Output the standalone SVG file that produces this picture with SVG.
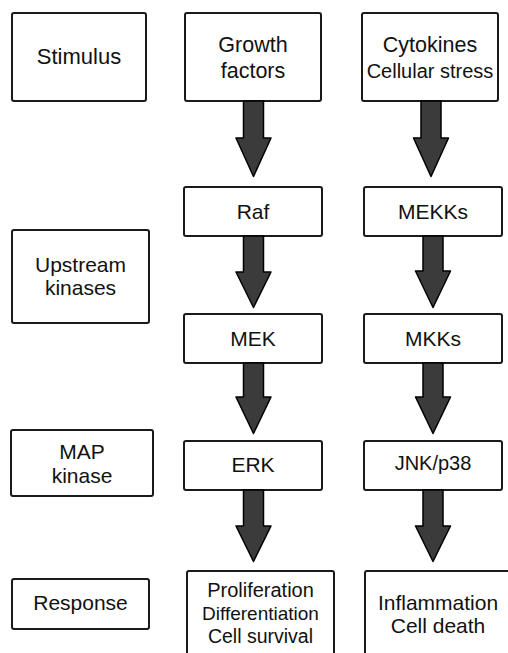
<svg xmlns="http://www.w3.org/2000/svg" width="508" height="653" viewBox="0 0 508 653">
<style>
.box{fill:#fff;stroke:#1a1a1a;stroke-width:2}
.t{font-family:"Liberation Sans",Arial,sans-serif;font-size:21px;fill:#111;text-anchor:middle}
.arr{fill:#3b3b3b;stroke:#000;stroke-width:1.5;stroke-linejoin:round}
</style>
<rect width="508" height="653" fill="#fff"/>
<g id="stimulus"><rect class="box" x="12" y="13" width="134" height="88" rx="2"/><text class="t" x="79" y="64" style="font-size:22px">Stimulus</text></g>
<g id="growth-factors"><rect class="box" x="185" y="13" width="136" height="88" rx="2"/><text class="t" x="253" y="52" style="font-size:21.5px">Growth</text><text class="t" x="253" y="78" style="font-size:21.5px">factors</text></g>
<g id="cytokines"><rect class="box" x="362" y="13" width="136" height="88" rx="2"/><text class="t" x="430" y="52" style="font-size:21.5px">Cytokines</text><text class="t" x="430" y="78" style="font-size:20px">Cellular stress</text></g>
<g id="upstream"><rect class="box" x="12" y="230" width="137" height="93" rx="2"/><text class="t" x="80.5" y="272">Upstream</text><text class="t" x="80.5" y="295">kinases</text></g>
<g id="raf"><rect class="box" x="184" y="187" width="138" height="49" rx="2"/><text class="t" x="253" y="218.5">Raf</text></g>
<g id="mekks"><rect class="box" x="364" y="187" width="138" height="49" rx="2"/><text class="t" x="433" y="218.5">MEKKs</text></g>
<g id="mek"><rect class="box" x="184" y="314" width="138" height="49" rx="2"/><text class="t" x="253" y="346">MEK</text></g>
<g id="mkks"><rect class="box" x="364" y="314" width="138" height="49" rx="2"/><text class="t" x="433" y="346">MKKs</text></g>
<g id="map-kinase"><rect class="box" x="11" y="430" width="142" height="66" rx="2"/><text class="t" x="82" y="459">MAP</text><text class="t" x="82" y="483">kinase</text></g>
<g id="erk"><rect class="box" x="184" y="441" width="138" height="49" rx="2"/><text class="t" x="253" y="472">ERK</text></g>
<g id="jnk"><rect class="box" x="364" y="441" width="138" height="49" rx="2"/><text class="t" x="433" y="470" style="font-size:20px">JNK/p38</text></g>
<g id="response"><rect class="box" x="12" y="579" width="137" height="50" rx="2"/><text class="t" x="80.5" y="610">Response</text></g>
<g id="erk-response"><rect class="box" x="187" y="571" width="147" height="95" rx="2"/><text class="t" x="260.5" y="597" style="font-size:20px">Proliferation</text><text class="t" x="260.5" y="620" style="font-size:19px">Differentiation</text><text class="t" x="260.5" y="643" style="font-size:19.5px">Cell survival</text></g>
<g id="jnk-response"><rect class="box" x="365" y="571" width="150" height="95" rx="2"/><text class="t" x="438" y="609.5">Inflammation</text><text class="t" x="438" y="633">Cell death</text></g>
<g id="connectors">
<path class="arr" d="M243.5,101 L263.5,101 L263.5,138 L271,138 L253.5,176.5 L236,138 L243.5,138 Z"/>
<path class="arr" d="M243.5,236 L263.5,236 L263.5,272 L271,272 L253.5,307.5 L236,272 L243.5,272 Z"/>
<path class="arr" d="M243.5,363 L263.5,363 L263.5,397 L271,397 L253.5,433.5 L236,397 L243.5,397 Z"/>
<path class="arr" d="M243.5,490 L263.5,490 L263.5,526 L271,526 L253.5,561.5 L236,526 L243.5,526 Z"/>
<path class="arr" d="M421,101 L441,101 L441,138 L448.5,138 L431,176.5 L413.5,138 L421,138 Z"/>
<path class="arr" d="M423,236 L443,236 L443,271 L450.5,271 L433,307.5 L415.5,271 L423,271 Z"/>
<path class="arr" d="M423,363 L443,363 L443,397 L450.5,397 L433,433.5 L415.5,397 L423,397 Z"/>
<path class="arr" d="M423,490 L443,490 L443,526 L450.5,526 L433,561.5 L415.5,526 L423,526 Z"/>
</g>
</svg>
